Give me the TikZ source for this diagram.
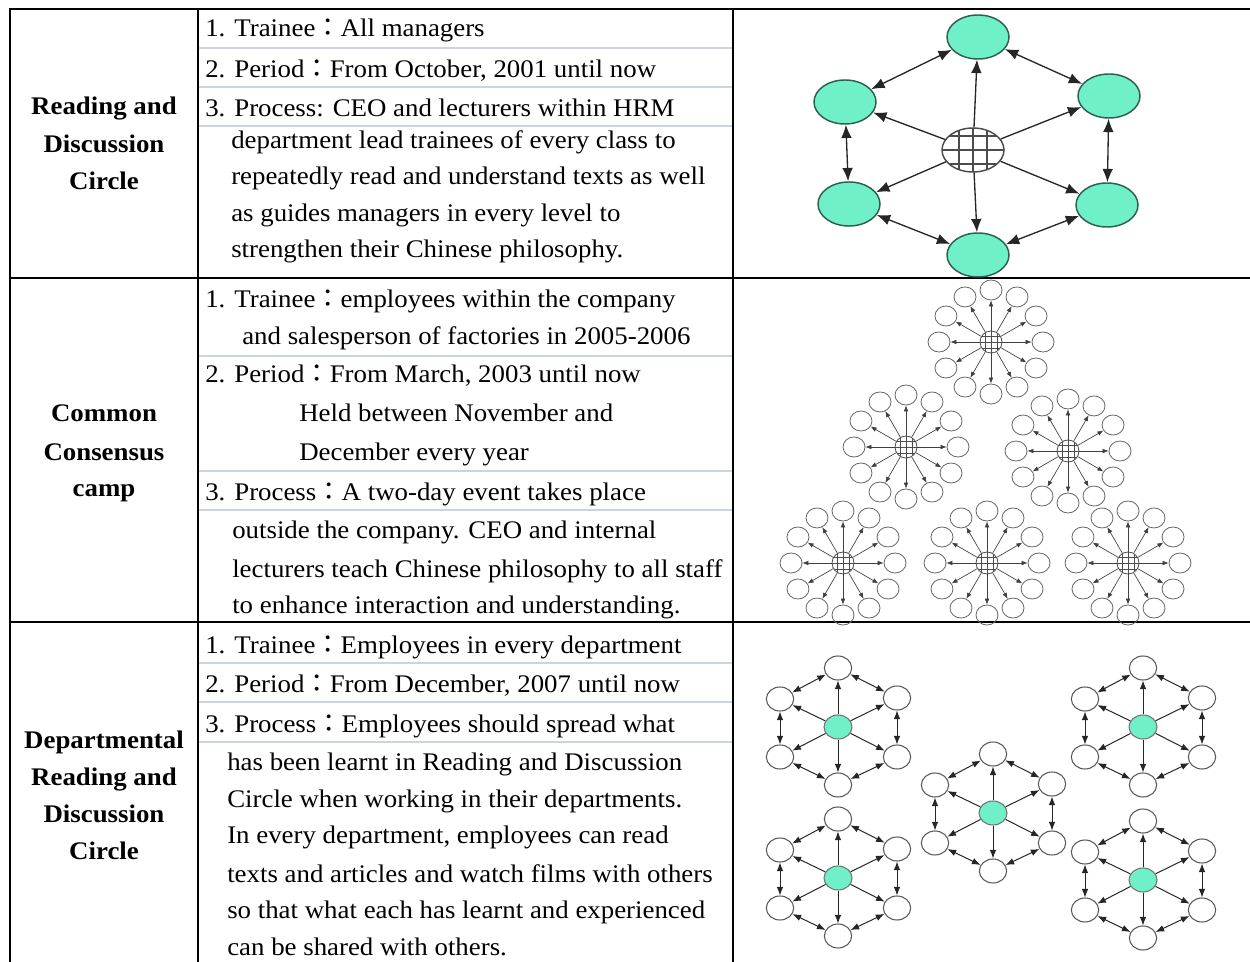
\documentclass[tikz,border=0pt]{standalone}
\usepackage{fontspec}
\setmainfont[FakeStretch=1.06]{Liberation Serif}
\newfontfamily\cjk{Noto Sans CJK TC}
\usetikzlibrary{arrows.meta,shapes.geometric,calc}
\definecolor{aqua}{RGB}{112,240,200}
\definecolor{rulegray}{RGB}{204,212,228}
\definecolor{rim}{RGB}{45,95,80}
\newcommand{\fc}{{\cjk ：}}

\begin{document}
\begin{tikzpicture}[x=0.75pt,y=-0.75pt,
    txt/.style={anchor=base west,inner sep=0,font=\fontsize{19}{22}\selectfont},
    lab/.style={anchor=base,inner sep=0,font=\fontsize{19}{22}\selectfont\bfseries},
    sep/.style={draw=rulegray,line width=1.5pt},
    hatch/.style n args={2}{path picture={\foreach \d in {-1,0,1} {
        \draw[line width=#2] ([xshift=\d*#1]path picture bounding box.north) -- ([xshift=\d*#1]path picture bounding box.south);
        \draw[line width=#2] ([yshift=\d*#1]path picture bounding box.west) -- ([yshift=\d*#1]path picture bounding box.east);}}},
    big/.style={ellipse,draw=rim,line width=1.1pt,fill=aqua,minimum width=46.5pt,minimum height=33pt,inner sep=0},
    bigarr/.style={draw=black!85,line width=1pt,>={Latex[length=10pt,width=8pt]}},
    hub/.style={circle,draw=black!70,line width=0.6pt,minimum size=16.5pt,inner sep=0,hatch={4.5pt}{0.5pt}},
    petal/.style={ellipse,draw=black!60,line width=0.6pt,minimum width=16.5pt,minimum height=15pt,inner sep=0},
    smallarr/.style={draw=black!75,line width=0.5pt,>={Latex[length=4.5pt,width=3.5pt]}},
    cell/.style={ellipse,draw=black!65,line width=0.8pt,minimum width=20.5pt,minimum height=18pt,inner sep=0},
    midarr/.style={draw=black!85,line width=0.75pt,>={Latex[length=6.5pt,width=5pt]}}]
\useasboundingbox (0,0) rectangle (1250,962);

% table rules
\foreach \y in {48,87,126,356,471,510,663,702,742}
    \draw[sep] (199,\y) -- (732,\y);
\draw[line width=2pt] (1250,9) -- (10,9) -- (10,962);
\draw[line width=1.6pt] (198,9) -- (198,962) (733,9) -- (733,962)
    (10,278) -- (1250,278) (10,622) -- (1250,622);

% row labels
\node[lab] (l1a) at (104,115) {Reading and};
\node[lab] (l1b) at (104,153) {Discussion};
\node[lab] (l1c) at (104,190) {Circle};
\node[lab] (l2a) at (104,422) {Common};
\node[lab] (l2b) at (104,460) {Consensus};
\node[lab] (l2c) at (104,497) {camp};
\node[lab] (l3a) at (104,748) {Departmental};
\node[lab] (l3b) at (104,785) {Reading and};
\node[lab] (l3c) at (104,822) {Discussion};
\node[lab] (l3d) at (104,859) {Circle};

% contents
\node[txt] (r1a) at (205,37) {1. Trainee\fc All managers};
\node[txt] (r1b) at (205,78) {2. Period\fc From October, 2001 until now};
\node[txt] (r1c) at (205,117) {3. Process: CEO and lecturers within HRM};
\node[txt] (r1d) at (231,149) {department lead trainees of every class to};
\node[txt] (r1e) at (231,185) {repeatedly read and understand texts as well};
\node[txt] (r1f) at (231,222) {as guides managers in every level to};
\node[txt] (r1g) at (231,258) {strengthen their Chinese philosophy.};

\node[txt] (r2a) at (205,308) {1. Trainee\fc employees within the company};
\node[txt] (r2b) at (242,345) {and salesperson of factories in 2005-2006};
\node[txt] (r2c) at (205,383) {2. Period\fc From March, 2003 until now};
\node[txt] (r2d) at (299,422) {Held between November and};
\node[txt] (r2e) at (299,460) {December every year};
\node[txt] (r2f) at (205,500) {3. Process\fc A two-day event takes place};
\node[txt] (r2g) at (232,538) {outside the company. CEO and internal};
\node[txt] (r2h) at (232,577) {lecturers teach Chinese philosophy to all staff};
\node[txt] (r2i) at (232,613) {to enhance interaction and understanding.};

\node[txt] (r3a) at (205,653) {1. Trainee\fc Employees in every department};
\node[txt] (r3b) at (205,692) {2. Period\fc From December, 2007 until now};
\node[txt] (r3c) at (205,732) {3. Process\fc Employees should spread what};
\node[txt] (r3d) at (227,770) {has been learnt in Reading and Discussion};
\node[txt] (r3e) at (227,807) {Circle when working in their departments.};
\node[txt] (r3f) at (227,843) {In every department, employees can read};
\node[txt] (r3g) at (227,882) {texts and articles and watch films with others};
\node[txt] (r3h) at (227,918) {so that what each has learnt and experienced};
\node[txt] (r3i) at (227,955) {can be shared with others.};

% reading circle
\node[big,fill=white,draw=black!70,hatch={10.5pt}{1pt}] (rc) at (973,150) {};
\foreach \n/\x/\y in {t/978/37,ul/845/102,ur/1109/96,ll/849/204,lr/1107/205,b/978/255}{
    \node[big] (rc\n) at (\x,\y) {};
    \draw[bigarr,->] (rc) -- (rc\n);
}
\foreach \a/\b in {t/ul,t/ur,ul/ll,ur/lr,ll/b,lr/b}
    \draw[bigarr,<->] (rc\a) -- (rc\b);

% consensus camp
\foreach \i/\x/\y in {1/991/342,2/906/447,3/1068/451,4/843/563,5/987/563,6/1128/563}{
    \node[hub] (cc\i) at (\x,\y) {};
    \foreach \k in {0,...,11}{
        \node[petal] (cc\i-\k) at ($(cc\i)+(\k*30:52)$) {};
        \draw[smallarr,->] (cc\i) -- (cc\i-\k);
    }
}

% departmental circles
\foreach \i/\x/\y in {1/838/727,2/838/878,3/993/813,4/1143/727,5/1143/880}{
    \node[cell,fill=aqua,draw=black!55,minimum width=21pt,minimum height=18pt] (dc\i) at (\x,\y) {};
    \foreach \n/\dx/\dy in {t/0/-59,ur/59/-29,lr/59/30,b/0/58,ll/-58/30,ul/-58/-28}{
        \node[cell] (dc\i\n) at ($(dc\i)+(\dx,\dy)$) {};
        \draw[midarr,->] (dc\i) -- (dc\i\n);
    }
    \foreach \a/\b in {t/ul,t/ur,ul/ll,ur/lr,ll/b,lr/b}
        \draw[midarr,<->] (dc\i\a) -- (dc\i\b);
}
\end{tikzpicture}
\end{document}
